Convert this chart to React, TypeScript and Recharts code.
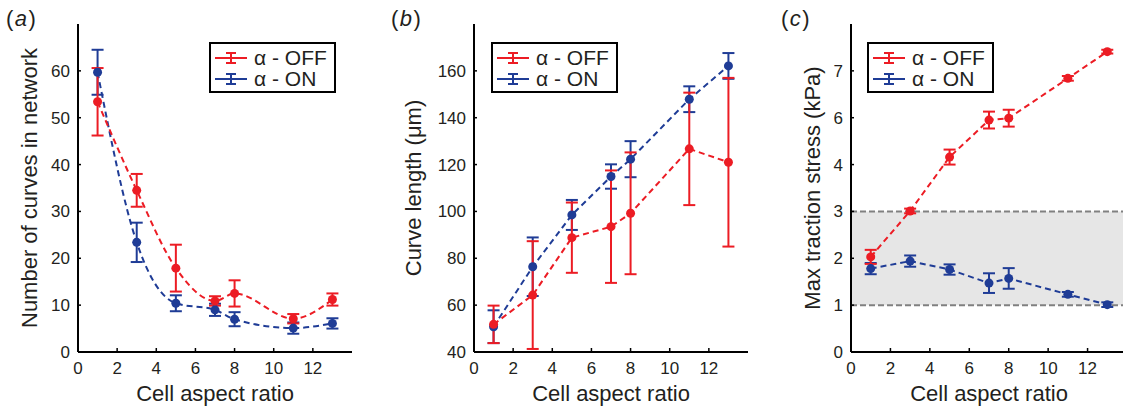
import {
    ComposedChart, Line, XAxis, YAxis, ErrorBar, ReferenceArea, ReferenceLine, Legend,
} from 'recharts';

const RED = '#ec1c24';
const BLUE = '#1f3c96';
const FONT = '"Liberation Sans", Arial, sans-serif';

const ASPECT = [1, 3, 5, 7, 8, 11, 13];
const X_TICKS = [0, 2, 4, 6, 8, 10, 12];

// (a) number of curves in network
const curvesOff = [53.4, 34.5, 17.9, 10.9, 12.5, 7.1, 11.2];
const curvesOffErr = [7.2, 3.5, 5.0, 1.0, 2.8, 1.0, 1.3];
const curvesOn = [59.7, 23.4, 10.4, 9.0, 7.0, 5.1, 6.1];
const curvesOnErr = [4.8, 4.2, 1.7, 1.3, 1.5, 1.2, 1.1];

// (b) curve length (um)
const lengthOff = [51.8, 64.3, 88.8, 93.5, 99.2, 126.7, 121.0];
const lengthOffErr = [8, 23, 15, 24, 26, 24, 36];
const lengthOn = [50.8, 76.4, 98.5, 114.9, 122.3, 147.9, 162.1];
const lengthOnErr = [7, 12.5, 6.4, 5.2, 7.7, 5.5, 5.5];

// (c) max traction stress - positions on the printed axis (its labels skip 5)
const stressOff = [2.03, 3.01, 4.16, 4.95, 4.99, 5.84, 6.41];
const stressOffErr = [0.15, 0.05, 0.16, 0.18, 0.18, 0.05, 0.04];
const stressOn = [1.78, 1.94, 1.76, 1.47, 1.57, 1.23, 1.01];
const stressOnErr = [0.12, 0.12, 0.11, 0.21, 0.22, 0.05, 0.05];
const stressTicks = [0, 1, 2, 3, 4, 5, 6];
const stressTickLabels = ['0', '1', '2', '3', '4', '6', '7'];

const build = (off: number[], offErr: number[], on: number[], onErr: number[]) =>
    ASPECT.map((x, i) => ({ x, off: off[i], offErr: offErr[i], on: on[i], onErr: onErr[i] }));

function ErrIcon({ color }: { color: string }) {
    return (
        <svg width={32} height={14} style={{ display: 'block', flex: 'none' }}>
            <line x1={0} y1={7} x2={32} y2={7} stroke={color} strokeWidth={2} />
            <line x1={16} y1={2} x2={16} y2={12} stroke={color} strokeWidth={2} />
            <line x1={11} y1={2} x2={21} y2={2} stroke={color} strokeWidth={2} />
            <line x1={11} y1={12} x2={21} y2={12} stroke={color} strokeWidth={2} />
        </svg>
    );
}

function LegendBox() {
    const rows = [
        { color: RED, text: 'α - OFF' },
        { color: BLUE, text: 'α - ON' },
    ];
    return (
        <div style={{
            border: '2px solid #000', background: '#fff', padding: '3px 0 2px 4px',
            fontFamily: FONT, fontSize: 21, color: '#231f20', width: 127, boxSizing: 'border-box',
            whiteSpace: 'nowrap',
        }}>
            {rows.map((r) => (
                <div key={r.text} style={{ display: 'flex', alignItems: 'center', height: 21 }}>
                    <ErrIcon color={r.color} />
                    <span style={{ marginLeft: 7, lineHeight: '21px' }}>{r.text}</span>
                </div>
            ))}
        </div>
    );
}

interface PanelProps {
    left: number;
    width: number;
    letter: string;
    letterX: number;
    yLabel: string;
    yLabelOffset: number;
    yDomain: [number, number];
    yTicks: number[];
    yFormat?: (v: number) => string;
    marginLeft: number;
    marginRight: number;
    data: ReturnType<typeof build>;
    curve: 'monotone' | 'linear';
    legendX: number;
    band?: boolean;
}

function Panel(p: PanelProps) {
    const tickStyle = { fontSize: 17, fill: '#231f20', fontFamily: FONT };
    const labelStyle = { fontSize: 22, fill: '#231f20', fontFamily: FONT };
    const frame = { stroke: '#000', strokeWidth: 2 };
    return (
        <div style={{ position: 'absolute', left: p.left, top: 0, width: p.width, height: 408 }}>
            <div style={{
                position: 'absolute', left: p.letterX, top: 8, fontFamily: FONT, fontSize: 22,
                lineHeight: 1, color: '#231f20', letterSpacing: 1.5,
            }}>
                (<i>{p.letter}</i>)
            </div>
            <ComposedChart
                width={p.width}
                height={408}
                data={p.data}
                margin={{ top: 24, right: p.marginRight, bottom: 26, left: p.marginLeft }}
            >
                <XAxis
                    type="number" dataKey="x" domain={[0, 14]} ticks={X_TICKS}
                    tickSize={-4} tickMargin={14} tick={tickStyle}
                    axisLine={frame} tickLine={{ stroke: '#000', strokeWidth: 1.5 }}
                    height={30}
                    label={{ value: 'Cell aspect ratio', position: 'bottom', offset: 3, style: labelStyle }}
                />
                <XAxis
                    xAxisId="top" orientation="top" type="number" domain={[0, 14]}
                    height={0} tick={false} tickLine={false} axisLine={frame}
                />
                <YAxis
                    type="number" domain={p.yDomain} ticks={p.yTicks} tickFormatter={p.yFormat}
                    tickSize={-3} tickMargin={11} tick={tickStyle} width={40}
                    axisLine={frame} tickLine={{ stroke: '#000', strokeWidth: 1.5 }}
                    label={{ value: p.yLabel, angle: -90, position: 'insideLeft', offset: p.yLabelOffset, style: { ...labelStyle, textAnchor: 'middle' } }}
                />
                <YAxis
                    yAxisId="right" orientation="right" type="number" domain={p.yDomain}
                    width={0} tick={false} tickLine={false} axisLine={frame}
                />
                {p.band && (
                    <ReferenceArea x1={0} x2={14} y1={1} y2={3} fill="#e6e6e6" fillOpacity={1} stroke="none" />
                )}
                {p.band && <ReferenceLine y={1} stroke="#808080" strokeWidth={2} strokeDasharray="6 3" />}
                {p.band && <ReferenceLine y={3} stroke="#808080" strokeWidth={2} strokeDasharray="6 3" />}
                <Line
                    type={p.curve} dataKey="on" stroke={BLUE} strokeWidth={2} strokeDasharray="6 4"
                    dot={{ r: 4.5, fill: BLUE, stroke: 'none' }} activeDot={false} isAnimationActive={false}
                >
                    <ErrorBar dataKey="onErr" direction="y" width={6} stroke={BLUE} strokeWidth={2} />
                </Line>
                <Line
                    type={p.curve} dataKey="off" stroke={RED} strokeWidth={2} strokeDasharray="6 4"
                    dot={{ r: 4.5, fill: RED, stroke: 'none' }} activeDot={false} isAnimationActive={false}
                >
                    <ErrorBar dataKey="offErr" direction="y" width={6} stroke={RED} strokeWidth={2} />
                </Line>
                <Legend
                    layout="horizontal" verticalAlign="middle" align="center"
                    content={() => <LegendBox />}
                    wrapperStyle={{ left: p.legendX, top: 42, width: 'auto', height: 'auto' }}
                />
            </ComposedChart>
        </div>
    );
}

export default function App() {
    return (
        <div style={{
            position: 'absolute', left: 0, top: 0, width: 1123, height: 408,
            overflow: 'hidden', background: '#fff',
        }}>
            <Panel
                left={0} width={380} letter="a" letterX={6}
                yLabel="Number of curves in network" yLabelOffset={-9}
                yDomain={[0, 70]} yTicks={[0, 10, 20, 30, 40, 50, 60]}
                marginLeft={38} marginRight={28}
                data={build(curvesOff, curvesOffErr, curvesOn, curvesOnErr)}
                curve="monotone" legendX={209}
            />
            <Panel
                left={380} width={380} letter="b" letterX={11}
                yLabel="Curve length (μm)" yLabelOffset={-21}
                yDomain={[40, 180]} yTicks={[40, 60, 80, 100, 120, 140, 160]}
                marginLeft={54} marginRight={12}
                data={build(lengthOff, lengthOffErr, lengthOn, lengthOnErr)}
                curve="linear" legendX={111}
            />
            <Panel
                left={750} width={400} letter="c" letterX={31}
                yLabel="Max traction stress (kPa)" yLabelOffset={1}
                yDomain={[0, 7]} yTicks={stressTicks}
                yFormat={(v) => stressTickLabels[v] ?? String(v)}
                marginLeft={61} marginRight={23}
                data={build(stressOff, stressOffErr, stressOn, stressOnErr)}
                curve="linear" legendX={117} band
            />
        </div>
    );
}
